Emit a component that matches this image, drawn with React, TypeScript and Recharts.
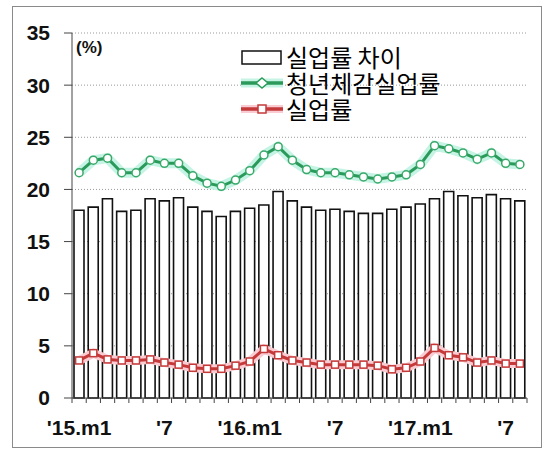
import React from 'react';
import { ComposedChart, Bar, Line, XAxis, YAxis, CartesianGrid } from 'recharts';

const months = [
  "'15.m1", "'15.m2", "'15.m3", "'15.m4", "'15.m5", "'15.m6", "'15.m7", "'15.m8", "'15.m9", "'15.m10", "'15.m11", "'15.m12",
  "'16.m1", "'16.m2", "'16.m3", "'16.m4", "'16.m5", "'16.m6", "'16.m7", "'16.m8", "'16.m9", "'16.m10", "'16.m11", "'16.m12",
  "'17.m1", "'17.m2", "'17.m3", "'17.m4", "'17.m5", "'17.m6", "'17.m7", "'17.m8",
];

const gapValues = [
  18.0, 18.3, 19.1, 17.9, 18.0, 19.1, 18.9, 19.2, 18.3, 17.9, 17.4, 17.9,
  18.2, 18.5, 19.8, 18.9, 18.3, 18.0, 18.1, 17.9, 17.7, 17.7, 18.1, 18.3,
  18.6, 19.1, 19.8, 19.4, 19.2, 19.5, 19.1, 18.9,
];

const youthValues = [
  21.6, 22.8, 23.0, 21.6, 21.6, 22.8, 22.5, 22.5, 21.3, 20.6, 20.3, 20.9,
  21.8, 23.3, 24.1, 22.8, 21.9, 21.6, 21.6, 21.4, 21.2, 21.0, 21.2, 21.4,
  22.4, 24.2, 23.9, 23.5, 22.9, 23.5, 22.5, 22.4,
];

const unempValues = [
  3.6, 4.3, 3.7, 3.6, 3.6, 3.7, 3.4, 3.2, 2.9, 2.8, 2.8, 3.1,
  3.5, 4.7, 4.1, 3.6, 3.4, 3.2, 3.2, 3.2, 3.2, 3.1, 2.75, 2.9,
  3.5, 4.8, 4.1, 3.9, 3.4, 3.6, 3.3, 3.3,
];

const tickLabelByMonth: Record<string, string> = {
  "'15.m1": "'15.m1",
  "'15.m7": "'7",
  "'16.m1": "'16.m1",
  "'16.m7": "'7",
  "'17.m1": "'17.m1",
  "'17.m7": "'7",
};

const yTicks = [0, 5, 10, 15, 20, 25, 30, 35];

const seriesNames = ['실업률 차이', '청년체감실업률', '실업률'];

const GREEN = '#2a9a5a';
const GREEN_GLOW = '#c6f4e4';
const RED = '#c43a3a';
const RED_GLOW = '#f8ccd2';

const data = months.map((m, i) => ({
  month: m,
  gap: gapValues[i],
  youth: youthValues[i],
  unemp: unempValues[i],
}));

const XTick = (props: any) => {
  const { x, y, payload, index } = props;
  const half = payload && typeof payload.offset === 'number' && payload.offset > 0 ? payload.offset : 7.1;
  const label = tickLabelByMonth[payload.value] || '';
  return (
    <g>
      <line x1={x - half} x2={x - half} y1={y} y2={y + 5} stroke="#444" strokeWidth={1} />
      {index === months.length - 1 && (
        <line x1={x + half} x2={x + half} y1={y} y2={y + 5} stroke="#444" strokeWidth={1} />
      )}
      {label && (
        <text
          x={x}
          y={y + 37}
          textAnchor="middle"
          fontSize={21}
          fontWeight="bold"
          fontFamily="'Liberation Sans', Arial, sans-serif"
          fill="#111"
        >
          {label}
        </text>
      )}
    </g>
  );
};

const SquareDot = (props: any) => {
  const { cx, cy } = props;
  if (cx == null || cy == null) return null;
  return <rect x={cx - 3.5} y={cy - 3.5} width={7} height={7} fill="#fff" stroke={RED} strokeWidth={1.5} />;
};

const rowStyle: React.CSSProperties = { display: 'flex', alignItems: 'center', height: 26 };
const textStyle: React.CSSProperties = {
  display: 'block',
  fontSize: 24,
  lineHeight: '26px',
  height: 26,
  overflow: 'visible',
  whiteSpace: 'nowrap',
};

const LegendBox = () => (
  <div
    style={{
      position: 'absolute',
      left: 241,
      top: 44,
      fontFamily: "'Noto Sans CJK KR', sans-serif",
      color: '#000',
    }}
  >
    <div style={rowStyle}>
      <svg width={45} height={26}>
        <rect x={1} y={7} width={39} height={13} fill="#fff" stroke="#111" strokeWidth={1.5} />
      </svg>
      <span style={textStyle}>{seriesNames[0]}</span>
    </div>
    <div style={rowStyle}>
      <svg width={45} height={26}>
        <line x1={0} x2={42} y1={13} y2={13} stroke={GREEN_GLOW} strokeWidth={9} />
        <line x1={0} x2={42} y1={13} y2={13} stroke={GREEN} strokeWidth={3.5} />
        <polygon points="21,8 27,13 21,18 15,13" fill="#fff" stroke={GREEN} strokeWidth={1.5} />
      </svg>
      <span style={textStyle}>{seriesNames[1]}</span>
    </div>
    <div style={rowStyle}>
      <svg width={45} height={26}>
        <line x1={0} x2={42} y1={13} y2={13} stroke={RED_GLOW} strokeWidth={8} />
        <line x1={0} x2={42} y1={13} y2={13} stroke={RED} strokeWidth={3.5} />
        <rect x={17} y={9} width={8} height={8} fill="#fff" stroke={RED} strokeWidth={1.5} />
      </svg>
      <span style={textStyle}>{seriesNames[2]}</span>
    </div>
  </div>
);

export default function App() {
  return (
    <div style={{ position: 'absolute', left: 0, top: 0, width: 546, height: 452, background: '#fff' }}>
      <div
        style={{
          position: 'absolute',
          left: 12,
          top: 6,
          width: 530,
          height: 442,
          border: '1px solid #8a8a8a',
          boxSizing: 'border-box',
        }}
      />
      <div style={{ position: 'absolute', left: 0, top: 0 }}>
        <ComposedChart
          width={546}
          height={452}
          data={data}
          margin={{ top: 33, right: 19, bottom: 14, left: 0 }}
          barCategoryGap={0}
        >
          <CartesianGrid horizontal vertical={false} stroke="#9a9a9a" strokeDasharray="1 2" />
          <XAxis
            dataKey="month"
            interval={0}
            height={40}
            tickLine={false}
            tickSize={0}
            tickMargin={0}
            axisLine={{ stroke: '#444', strokeWidth: 1 }}
            tick={<XTick />}
          />
          <YAxis
            domain={[0, 35]}
            ticks={yTicks}
            width={72}
            tickSize={8}
            tickMargin={14}
            axisLine={{ stroke: '#444', strokeWidth: 1 }}
            tickLine={{ stroke: '#444', strokeWidth: 1 }}
            tick={{ fontSize: 21, fontWeight: 'bold', fill: '#111', fontFamily: "'Liberation Sans', Arial, sans-serif" }}
          />
          <Bar
            dataKey="gap"
            name={seriesNames[0]}
            barSize={10}
            fill="#fff"
            stroke="#111"
            strokeWidth={1.6}
            isAnimationActive={false}
          />
          <Line
            dataKey="youth"
            type="linear"
            stroke={GREEN_GLOW}
            strokeWidth={10}
            dot={false}
            activeDot={false}
            legendType="none"
            isAnimationActive={false}
          />
          <Line
            dataKey="youth"
            name={seriesNames[1]}
            type="linear"
            stroke={GREEN}
            strokeWidth={3}
            dot={{ r: 4, fill: '#fff', stroke: '#3aa86a', strokeWidth: 1.5 }}
            isAnimationActive={false}
          />
          <Line
            dataKey="unemp"
            type="linear"
            stroke={RED_GLOW}
            strokeWidth={9}
            dot={false}
            activeDot={false}
            legendType="none"
            isAnimationActive={false}
          />
          <Line
            dataKey="unemp"
            name={seriesNames[2]}
            type="linear"
            stroke={RED}
            strokeWidth={3}
            dot={<SquareDot />}
            isAnimationActive={false}
          />
        </ComposedChart>
      </div>
      <LegendBox />
      <div
        style={{
          position: 'absolute',
          left: 76,
          top: 38,
          fontSize: 17,
          fontWeight: 'bold',
          fontFamily: "'Liberation Sans', Arial, sans-serif",
          color: '#111',
        }}
      >
        (%)
      </div>
    </div>
  );
}
